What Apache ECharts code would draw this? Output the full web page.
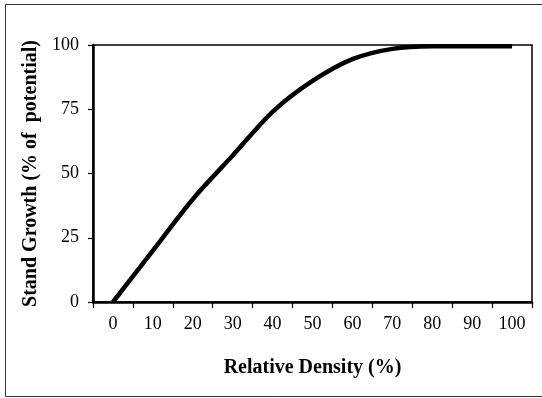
<!DOCTYPE html>
<html>
<head>
<meta charset="utf-8">
<script src="https://cdn.jsdelivr.net/npm/echarts@6/dist/echarts.min.js"></script>
<style>
html,body{margin:0;padding:0;background:#fff;}
#c{width:542px;height:398px;}
</style>
</head>
<body>
<div id="c"></div>
<script>
var categories = ['0','10','20','30','40','50','60','70','80','90','100'];
var growth = [0, 20, 40, 57, 74, 86, 94.5, 98.5, 99.5, 99.5, 99.5];
var yTicks = [0, 25, 50, 75, 100];
var xTitle = 'Relative Density (%)';
var yTitle = 'Stand Growth (% of  potential)';

var font = '"Liberation Serif", "Times New Roman", serif';
var chart = echarts.init(document.getElementById('c'));
chart.setOption({
  animation: false,
  backgroundColor: '#fff',
  graphic: [{
    type: 'rect',
    shape: {x: 5.5, y: 4.5, width: 545, height: 392},
    style: {fill: 'none', stroke: '#333', lineWidth: 1}
  }],
  grid: {left: 93, right: 10, top: 45, bottom: 96, show: true, borderColor: '#000', borderWidth: 1.5, backgroundColor: 'transparent'},
  xAxis: {
    type: 'category',
    data: categories,
    boundaryGap: true,
    name: xTitle,
    nameLocation: 'middle',
    nameGap: 56,
    nameTextStyle: {fontFamily: font, fontWeight: 'bold', fontSize: 20, color: '#000'},
    axisLine: {lineStyle: {color: '#000', width: 2.5}},
    axisTick: {show: true, length: 6, lineStyle: {color: '#000', width: 1.2}},
    axisLabel: {fontFamily: font, fontSize: 18, color: '#000', margin: 13, interval: 0},
    splitLine: {show: false}
  },
  yAxis: {
    type: 'value',
    min: yTicks[0],
    max: yTicks[yTicks.length - 1],
    interval: 25,
    name: yTitle,
    nameLocation: 'middle',
    nameGap: 52,
    nameTextStyle: {fontFamily: font, fontWeight: 'bold', fontSize: 20, color: '#000'},
    axisLine: {show: true, lineStyle: {color: '#000', width: 2.5}},
    axisTick: {show: true, length: 5, lineStyle: {color: '#000', width: 1.2}},
    axisLabel: {fontFamily: font, fontSize: 18, color: '#000', margin: 14},
    splitLine: {show: false}
  },
  series: [{
    type: 'line',
    data: growth,
    smooth: 0.3,
    showSymbol: false,
    lineStyle: {color: '#000', width: 4.5}
  }]
});
</script>
</body>
</html>
